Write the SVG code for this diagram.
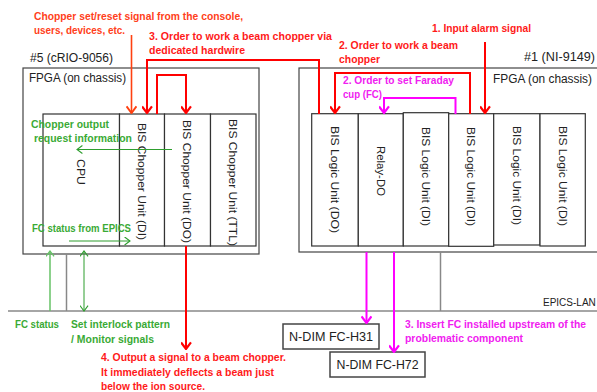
<svg xmlns="http://www.w3.org/2000/svg" width="597" height="392" viewBox="0 0 597 392">
<style>
text{font-family:"Liberation Sans",Arial,sans-serif;}
.t{font-size:12px;fill:#222;}
.v{font-size:11px;fill:#222;}
.r{font-size:11px;font-weight:bold;fill:#FF1A1A;}
.o{font-size:11px;font-weight:bold;fill:#FF4020;}
.m{font-size:11px;font-weight:bold;fill:#F020F0;}
.g{font-size:11px;font-weight:bold;fill:#3AAA35;}
.box{fill:#fff;stroke:#333;stroke-width:1.2;}
.outer{fill:#fff;stroke:#444;stroke-width:1.2;}
.nd{fill:#fff;stroke:#444;stroke-width:1.5;}
.red{fill:none;stroke:#FF0000;stroke-width:2;}
.org{fill:none;stroke:#FF4010;stroke-width:1.6;}
.mag{fill:none;stroke:#FF00FF;stroke-width:2;}
.grn{fill:none;stroke:#2E9E2E;stroke-width:1;}
.lgr{fill:none;stroke:#66C266;stroke-width:1.5;}
.gry{fill:none;stroke:#888;stroke-width:1.5;}
</style>
<defs>
<marker id="aR" viewBox="0 0 10 10" refX="9" refY="5" markerWidth="11" markerHeight="11" markerUnits="userSpaceOnUse" orient="auto"><path d="M3,0.5 L9,5 L3,9.5" fill="none" stroke="#FF0000" stroke-width="2"/></marker>
<marker id="aO" viewBox="0 0 10 10" refX="9" refY="5" markerWidth="11" markerHeight="11" markerUnits="userSpaceOnUse" orient="auto"><path d="M3,0.5 L9,5 L3,9.5" fill="none" stroke="#FF4010" stroke-width="1.8"/></marker>
<marker id="aM" viewBox="0 0 10 10" refX="9" refY="5" markerWidth="11" markerHeight="11" markerUnits="userSpaceOnUse" orient="auto"><path d="M3,0.5 L9,5 L3,9.5" fill="none" stroke="#FF00FF" stroke-width="2"/></marker>
<marker id="aG" viewBox="0 0 10 10" refX="9" refY="5" markerWidth="9" markerHeight="9" markerUnits="userSpaceOnUse" orient="auto-start-reverse"><path d="M3,0.5 L9,5 L3,9.5" fill="none" stroke="#2E9E2E" stroke-width="1.2"/></marker>
<marker id="aL" viewBox="0 0 10 10" refX="9" refY="5" markerWidth="9" markerHeight="9" markerUnits="userSpaceOnUse" orient="auto"><path d="M3,0.5 L9,5 L3,9.5" fill="none" stroke="#66C266" stroke-width="1.4"/></marker>
</defs>

<!-- chassis #5 -->
<g id="chassis5">
<rect class="outer" x="23" y="68" width="236" height="186"/>
<text class="t" x="30" y="62" textLength="83" lengthAdjust="spacingAndGlyphs">#5 (cRIO-9056)</text>
<text class="t" x="29" y="82" textLength="97" lengthAdjust="spacingAndGlyphs">FPGA (on chassis)</text>
</g>
<g id="cpu"><rect class="box" x="43" y="114" width="76.5" height="132"/>
<text class="v" transform="translate(77,159) rotate(90)" textLength="26" lengthAdjust="spacingAndGlyphs">CPU</text></g>
<g id="chopper-di"><rect class="box" x="119.5" y="114" width="45" height="132"/>
<text class="v" transform="translate(138,123) rotate(90)" textLength="117" lengthAdjust="spacingAndGlyphs">BIS Chopper Unit (DI)</text></g>
<g id="chopper-do"><rect class="box" x="164.5" y="114" width="46" height="132"/>
<text class="v" transform="translate(183,120) rotate(90)" textLength="123" lengthAdjust="spacingAndGlyphs">BIS Chopper Unit (DO)</text></g>
<g id="chopper-ttl"><rect class="box" x="210.5" y="114" width="45.5" height="132"/>
<text class="v" transform="translate(229,119) rotate(90)" textLength="127" lengthAdjust="spacingAndGlyphs">BIS Chopper Unit (TTL)</text></g>

<!-- chassis #1 -->
<g id="chassis1">
<rect class="outer" x="299" y="68" width="310" height="184"/>
<text class="t" x="524" y="61" textLength="71" lengthAdjust="spacingAndGlyphs">#1 (NI-9149)</text>
<text class="t" x="493" y="83" textLength="99" lengthAdjust="spacingAndGlyphs">FPGA (on chassis)</text>
</g>
<g id="logic-do"><rect class="box" x="311.7" y="113.7" width="46.6" height="132.3"/>
<text class="v" transform="translate(331,126) rotate(90)" textLength="107" lengthAdjust="spacingAndGlyphs">BIS Logic Unit (DO)</text></g>
<g id="relay-do"><rect class="box" x="358.3" y="113.7" width="45" height="132.3"/>
<text class="v" transform="translate(377,146) rotate(90)" textLength="50" lengthAdjust="spacingAndGlyphs">Relay-DO</text></g>
<g id="logic-di-1"><rect class="box" x="403.3" y="112.7" width="45.4" height="133.3"/>
<text class="v" transform="translate(422,127) rotate(90)" textLength="99" lengthAdjust="spacingAndGlyphs">BIS Logic Unit (DI)</text></g>
<g id="logic-di-2"><rect class="box" x="448.7" y="113.7" width="45" height="132.6"/>
<text class="v" transform="translate(467,127) rotate(90)" textLength="99" lengthAdjust="spacingAndGlyphs">BIS Logic Unit (DI)</text></g>
<g id="logic-di-3"><rect class="box" x="493.7" y="113.7" width="46.3" height="131.3"/>
<text class="v" transform="translate(513,126) rotate(90)" textLength="99" lengthAdjust="spacingAndGlyphs">BIS Logic Unit (DI)</text></g>
<g id="logic-di-4"><rect class="box" x="540" y="113.7" width="45.3" height="132.3"/>
<text class="v" transform="translate(559,126) rotate(90)" textLength="100" lengthAdjust="spacingAndGlyphs">BIS Logic Unit (DI)</text></g>

<!-- N-DIM -->
<g id="fc-h31"><rect class="nd" x="283" y="324" width="96" height="25"/>
<text class="t" x="331" y="341" text-anchor="middle" textLength="84" lengthAdjust="spacingAndGlyphs">N-DIM FC-H31</text></g>
<g id="fc-h72"><rect class="nd" x="330" y="352" width="95" height="25"/>
<text class="t" x="377.5" y="369" text-anchor="middle" textLength="82" lengthAdjust="spacingAndGlyphs">N-DIM FC-H72</text></g>

<!-- EPICS LAN -->
<g id="epics-lan">
<path class="gry" d="M8,311 H597"/>
<text x="543" y="306" style="font-size:10px;fill:#222">EPICS-LAN</text>
</g>

<!-- connectors -->
<g id="connectors">
<path class="org" d="M131.5,35 V113" marker-end="url(#aO)"/>
<path class="red" d="M319,114 V60 H147 V113" marker-end="url(#aR)"/>
<path class="red" d="M157,114 V75 H186 V113" marker-end="url(#aR)"/>
<path class="red" d="M470,114 V73 H335 V113" marker-end="url(#aR)"/>
<path class="red" d="M485,42 V113" marker-end="url(#aR)"/>
<path class="mag" d="M455.5,114 V98 H384 V113" marker-end="url(#aM)"/>
<path class="red" d="M186,246 V349" marker-end="url(#aR)"/>
<path class="mag" d="M366.5,252 V323" marker-end="url(#aM)"/>
<path class="mag" d="M394,252 V352" marker-end="url(#aM)"/>
<path class="grn" d="M172,149.5 H77" marker-end="url(#aG)"/>
<path class="grn" d="M69,241 H130" marker-end="url(#aG)"/>
<path class="lgr" d="M50,311 V251" marker-end="url(#aL)"/>
<path class="grn" d="M84,311 V251" marker-start="url(#aG)" marker-end="url(#aG)"/>
<path class="gry" d="M66.5,254 V311"/>
<path class="gry" d="M440.5,252 V311"/>
</g>

<!-- labels -->
<g id="labels">
<text class="o" x="34" y="20" textLength="209" lengthAdjust="spacingAndGlyphs">Chopper set/reset signal from the console,</text>
<text class="o" x="34" y="34" textLength="91" lengthAdjust="spacingAndGlyphs">users, devices, etc.</text>
<text class="r" x="149" y="40" textLength="183" lengthAdjust="spacingAndGlyphs">3. Order to work a beam chopper via</text>
<text class="r" x="149" y="54" textLength="96" lengthAdjust="spacingAndGlyphs">dedicated hardwire</text>
<text class="r" x="339" y="49" textLength="119" lengthAdjust="spacingAndGlyphs">2. Order to work a beam</text>
<text class="r" x="339" y="63" textLength="41" lengthAdjust="spacingAndGlyphs">chopper</text>
<text class="r" x="432" y="32" textLength="99" lengthAdjust="spacingAndGlyphs">1. Input alarm signal</text>
<text class="m" x="343" y="84" textLength="111" lengthAdjust="spacingAndGlyphs">2. Order to set Faraday</text>
<text class="m" x="343" y="98" textLength="39" lengthAdjust="spacingAndGlyphs">cup (FC)</text>
<text class="g" x="31" y="128" textLength="78" lengthAdjust="spacingAndGlyphs">Chopper output</text>
<text class="g" x="34" y="142" textLength="98" lengthAdjust="spacingAndGlyphs">request information</text>
<text class="g" x="32" y="232" textLength="99" lengthAdjust="spacingAndGlyphs">FC status from EPICS</text>
<text class="g" x="15" y="328" textLength="44" lengthAdjust="spacingAndGlyphs">FC status</text>
<text class="g" x="71" y="328" textLength="99" lengthAdjust="spacingAndGlyphs">Set interlock pattern</text>
<text class="g" x="71" y="343" textLength="83" lengthAdjust="spacingAndGlyphs">/ Monitor signals</text>
<text class="r" x="101" y="361" textLength="185" lengthAdjust="spacingAndGlyphs">4. Output a signal to a beam chopper.</text>
<text class="r" x="101" y="376" textLength="173" lengthAdjust="spacingAndGlyphs">It immediately deflects a beam just</text>
<text class="r" x="101" y="390" textLength="104" lengthAdjust="spacingAndGlyphs">below the ion source.</text>
<text class="m" x="405" y="328" textLength="181" lengthAdjust="spacingAndGlyphs">3. Insert FC installed upstream of the</text>
<text class="m" x="405" y="342" textLength="118" lengthAdjust="spacingAndGlyphs">problematic component</text>
</g>
</svg>
